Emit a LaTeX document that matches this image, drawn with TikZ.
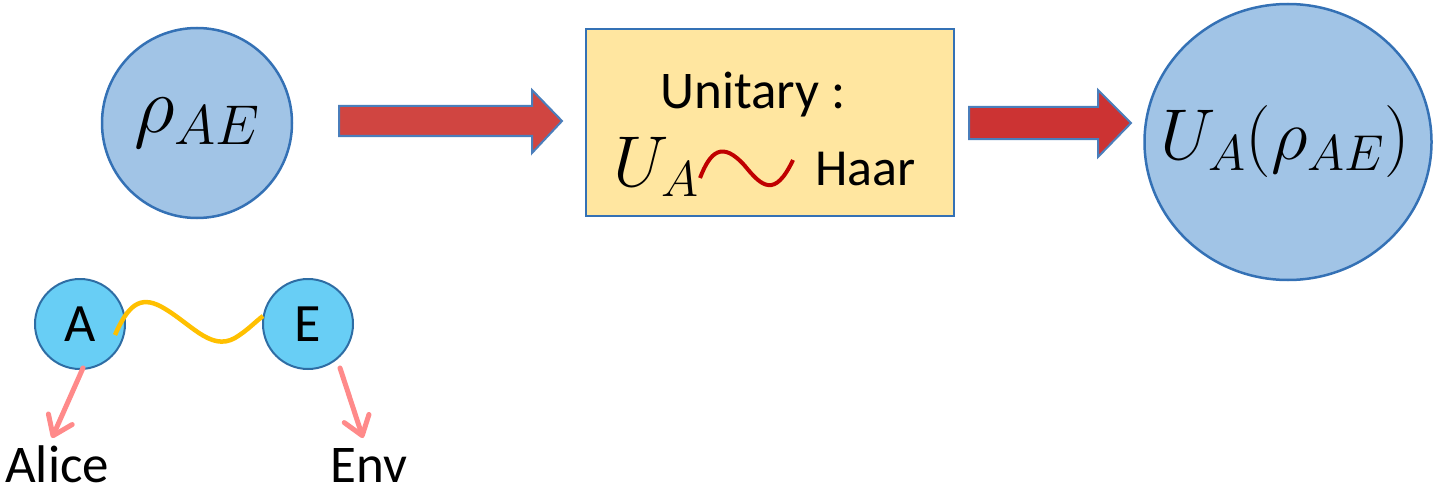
\RequirePackage{fix-cm}
\documentclass[tikz,border=0pt]{standalone}
\usepackage{fontspec}
\setmainfont{Carlito}
\usetikzlibrary{shapes.geometric,arrows.meta,calc}

\definecolor{stateFill}{RGB}{161,196,230}
\definecolor{stateLine}{RGB}{52,113,181}
\definecolor{boxFill}{RGB}{255,230,160}
\definecolor{arrowRedA}{RGB}{208,69,65}
\definecolor{arrowRedB}{RGB}{204,51,51}
\definecolor{arrowLine}{RGB}{74,126,187}
\definecolor{qubitFill}{RGB}{104,206,245}
\definecolor{qubitLine}{RGB}{46,109,164}
\definecolor{linkYellow}{RGB}{255,192,0}
\definecolor{haarRed}{RGB}{192,0,0}
\definecolor{pointPink}{RGB}{255,138,138}

\tikzset{
  statecirc/.style={circle, draw=stateLine, line width=2.5pt, fill=stateFill, inner sep=0pt},
  stateoval/.style={ellipse, draw=stateLine, line width=2.5pt, fill=stateFill, inner sep=0pt},
  opbox/.style={rectangle, draw=stateLine, line width=2pt, fill=boxFill, inner sep=0pt},
  blockarrow/.style={draw=arrowLine, line width=2pt, line join=miter},
  qubit/.style={circle, draw=qubitLine, line width=2pt, fill=qubitFill, inner sep=0pt, minimum size=90pt,
    font=\fontsize{54}{60}\selectfont},
  pointer/.style={draw=pointPink, line width=5pt, line cap=round,
    -{Straight Barb[length=18pt,width=26pt,line width=5pt,round]}},
  lbl/.style={inner sep=0pt, anchor=base west},
}

\begin{document}
\begin{tikzpicture}[x=1pt,y=-1pt]
\useasboundingbox (0,0) rectangle (1434,492);

% input state
\node[statecirc, minimum size=190pt] (rho) at (197,123)
  {\fontsize{80}{90}\selectfont$\rho_{AE}$};

% first block arrow
\filldraw[blockarrow, fill=arrowRedA]
  (339,106) -- (532,106) -- (532,90) -- (562,121) -- (532,153) -- (532,136) -- (339,136) -- cycle;

% the operation box
\node[opbox, minimum width=368pt, minimum height=187pt] (op) at (770,122.5) {};
\node[lbl, font=\fontsize{53}{60}\selectfont] (unit) at (660,109) {Unitary :};
\node[lbl] (ua) at (613,186) {\fontsize{72}{80}\selectfont$U_A$};
\draw[haarRed, line width=4pt] (700,178) .. controls (710,152) and (722,140) .. (745,166)
  .. controls (762,187) and (775,198) .. (793,160);
\node[lbl, font=\fontsize{52}{60}\selectfont] (haar) at (815,185) {Haar};

% second block arrow
\filldraw[blockarrow, fill=arrowRedB]
  (969,107) -- (1098,107) -- (1098,90) -- (1131,123) -- (1098,157) -- (1098,139) -- (969,139) -- cycle;

% output state
\node[stateoval, minimum width=287pt, minimum height=276pt] (out) at (1288,142) {};
\node[inner sep=0pt] (outlbl) at (1285,142) {\fontsize{72}{80}\selectfont$U_A(\rho_{AE})$};

% the two subsystems and their entanglement
\node[qubit] (A) at (80,324) {A};
\node[qubit] (E) at (308,324) {E};
\coordinate (wA) at ($(A.center)+(35,11)$);
\coordinate (wE) at ($(E.center)+(-45,-8)$);
\draw[linkYellow, line width=4.5pt] (wA) .. controls (128,305) and (140,296) .. (160,306)
  .. controls (190,322) and (210,352) .. (235,338) .. controls (248,330) and (255,322) .. (wE);

% labels of the subsystems
\node[lbl, font=\fontsize{53}{60}\selectfont] (alice) at (5,482) {Alice};
\node[lbl, font=\fontsize{53}{60}\selectfont] (env) at (330,482) {Env};
\coordinate (aTip) at (52,438);
\coordinate (eTip) at (363,438);
\draw[pointer] ($(A.center)+(3,44)$) -- (aTip);
\draw[pointer] ($(E.center)+(32,44)$) -- (eTip);
\end{tikzpicture}
\end{document}
